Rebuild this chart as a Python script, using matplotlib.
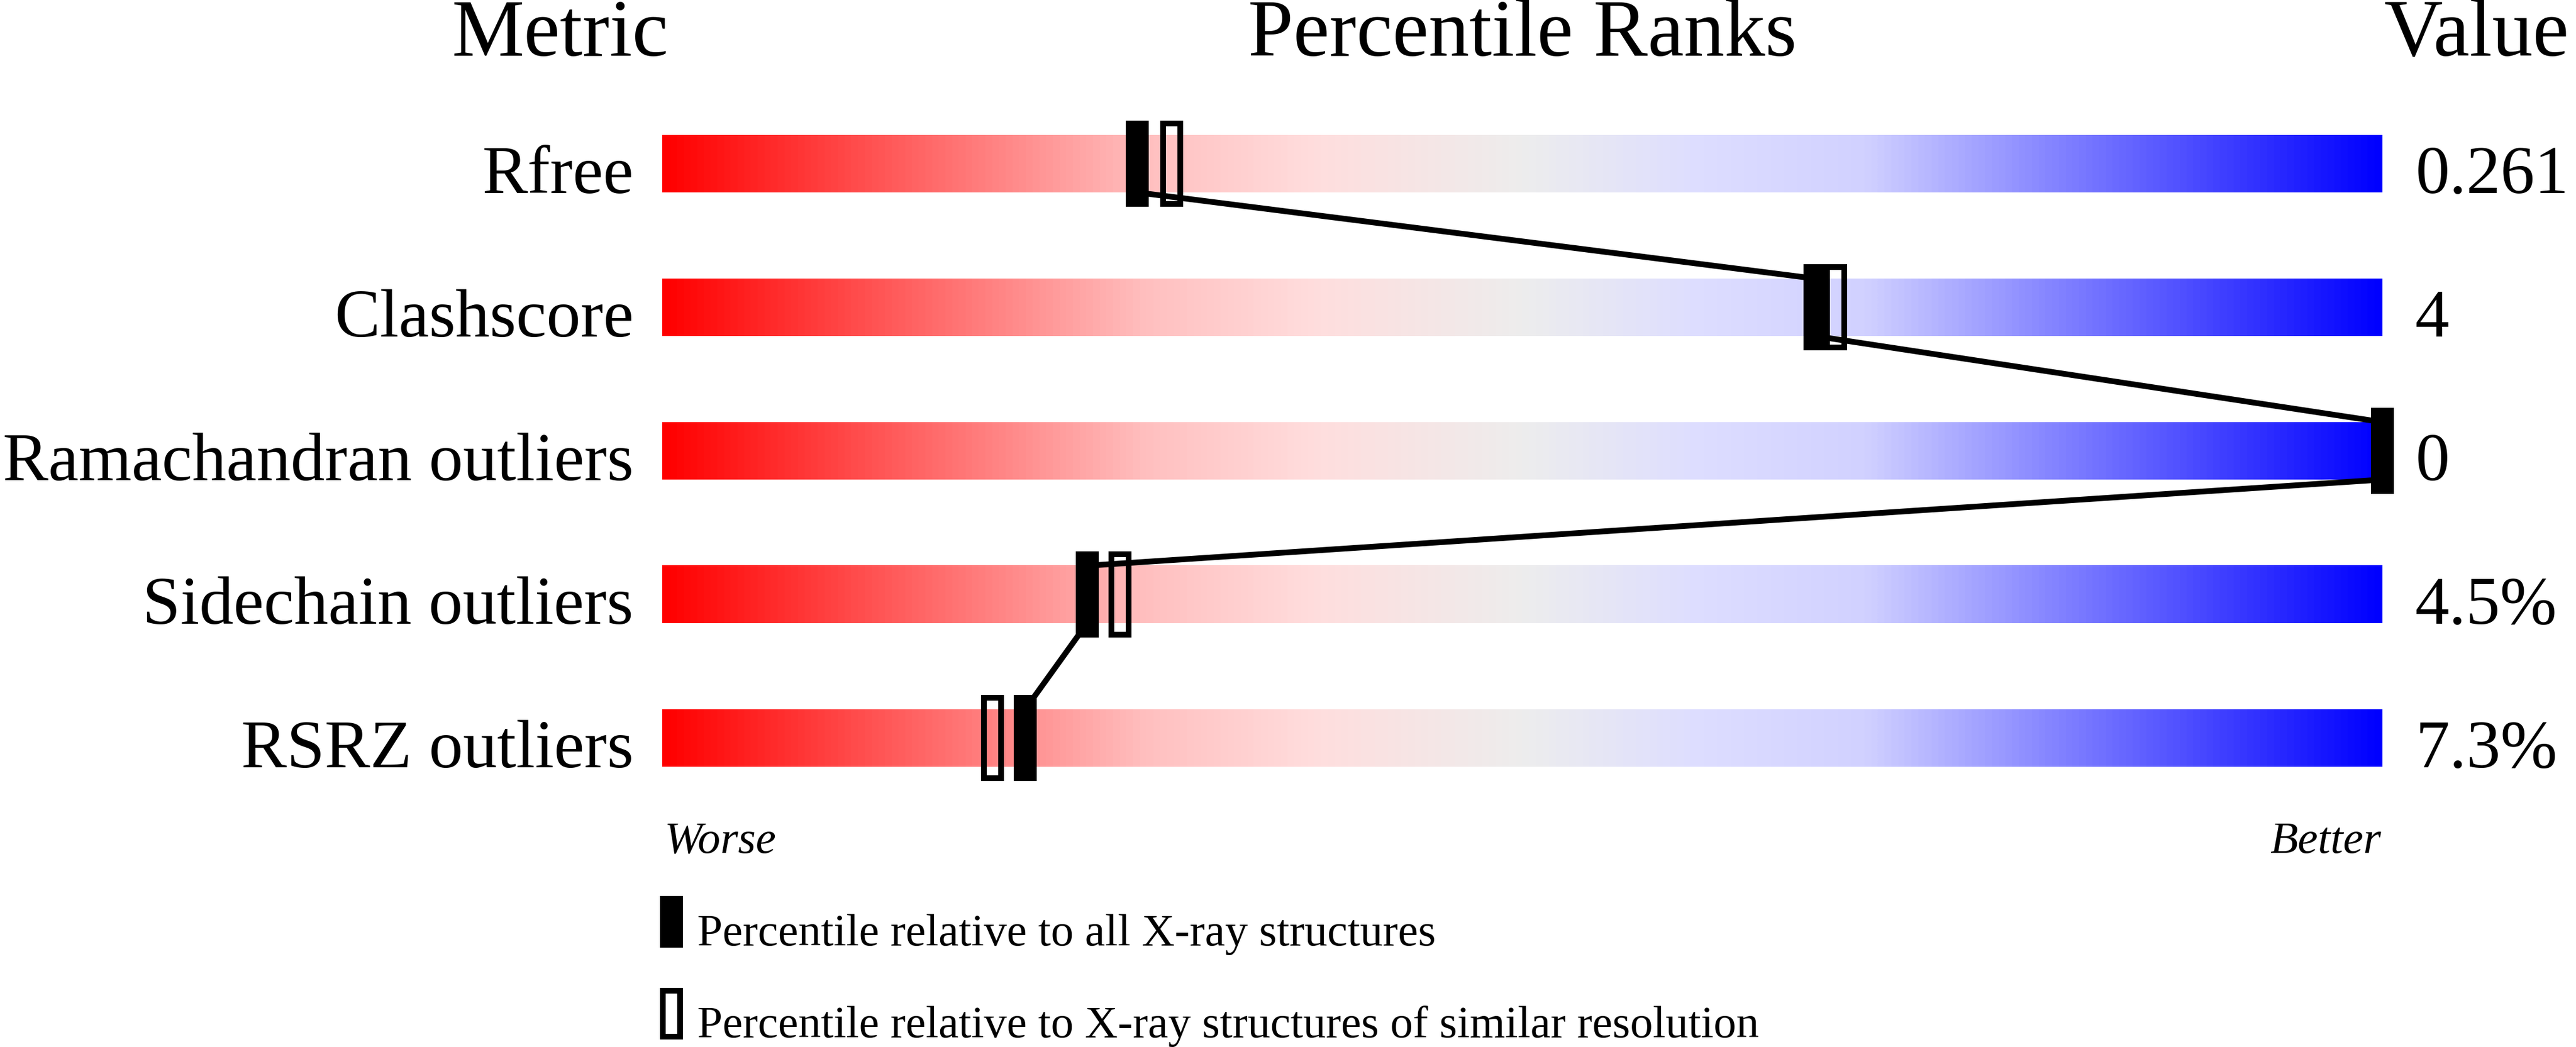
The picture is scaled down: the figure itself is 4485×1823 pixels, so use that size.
import numpy as np
import matplotlib
matplotlib.use("Agg")
import matplotlib.pyplot as plt
from matplotlib.colors import LinearSegmentedColormap
from matplotlib.patches import Rectangle

plt.rcParams['font.family'] = ['Liberation Serif', 'DejaVu Serif']

# data
metrics = ["Rfree", "Clashscore", "Ramachandran outliers", "Sidechain outliers", "RSRZ outliers"]
pct_all = [27.6, 67.0, 100.0, 24.7, 21.1]        # filled marker
pct_similar = [29.6, 68.2, 100.0, 26.6, 19.2]    # open marker
values = ["0.261", "4", "0", "4.5%", "7.3%"]

# canvas in pixels (dpi 100)
W, H = 4485, 1824
DPI = 100
bar_x0, bar_x1 = 1153, 4148
row0_px, row_step = 286, 250
px_per_pct = (bar_x1 - bar_x0) / 100.0

fig = plt.figure(figsize=(W / DPI, H / DPI), dpi=DPI)
fig.patch.set_facecolor("white")

ax = fig.add_axes([bar_x0 / W, 0, (bar_x1 - bar_x0) / W, 1])
ax.set_axis_off()

# colour ramp worse -> better
cmap = LinearSegmentedColormap.from_list("slider", [
    (0.00, (1.00, 0.00, 0.00)),
    (0.28, (1.00, 0.75, 0.75)),
    (0.38, (1.00, 0.87, 0.87)),
    (0.50, (0.93, 0.93, 0.93)),
    (0.60, (0.87, 0.87, 1.00)),
    (0.70, (0.82, 0.82, 1.00)),
    (1.00, (0.00, 0.00, 1.00)),
])
grad = np.linspace(0, 1, 600).reshape(1, -1)

bar_h = 100 / row_step
mk_h = 150 / row_step
mk_w = 40 / px_per_pct
lw_px = 10
lw_pt = lw_px * 72 / DPI

rows = np.arange(len(metrics))
for r in rows:
    ax.imshow(grad, cmap=cmap, aspect="auto", interpolation="bilinear",
              extent=(0, 100, r + bar_h / 2, r - bar_h / 2), zorder=1)

# connecting line: bar bottom of one row to bar top of the next
for r in rows[:-1]:
    ax.plot([pct_all[r], pct_all[r + 1]], [r + bar_h / 2, r + 1 - bar_h / 2],
            color="black", lw=7.2, solid_capstyle="butt", zorder=2, clip_on=False)

for r in rows:
    # open marker: outline centred on path, so shrink path by line width
    ow = (40 - lw_px) / px_per_pct
    oh = (150 - lw_px) / row_step
    ax.add_patch(Rectangle((pct_similar[r] - ow / 2, r - oh / 2), ow, oh,
                           facecolor="none", edgecolor="black", lw=lw_pt,
                           zorder=3, clip_on=False))
    ax.add_patch(Rectangle((pct_all[r] - mk_w / 2, r - mk_h / 2), mk_w, mk_h,
                           facecolor="black", edgecolor="none",
                           zorder=4, clip_on=False))

    ax.annotate(metrics[r], xy=(0, r + bar_h / 2), xytext=(-50, 0),
                textcoords="offset pixels", ha="right", va="baseline",
                fontsize=85.5, annotation_clip=False)
    ax.annotate(values[r], xy=(100, r + bar_h / 2), xytext=(57, 0),
                textcoords="offset pixels", ha="left", va="baseline",
                fontsize=85.5, annotation_clip=False)

ax.set_xlim(0, 100)
ax.set_ylim((H - row0_px) / row_step, -row0_px / row_step)

# headers
hy = 1 - 97 / H
fig.text(976 / W, hy, "Metric", ha="center", va="baseline", fontsize=102)
fig.text((bar_x0 + bar_x1) / 2 / W, hy, "Percentile Ranks", ha="center", va="baseline", fontsize=102)
fig.text(4150 / W, hy, "Value", ha="left", va="baseline", fontsize=102)

# worse / better
wy = 1 - 1485 / H
fig.text(1157 / W, wy, "Worse", ha="left", va="baseline", fontsize=57, style="italic")
fig.text(4146 / W, wy, "Better", ha="right", va="baseline", fontsize=57, style="italic")

# legend
lax = fig.add_axes([0, 0, 1, 1], facecolor="none")
lax.set_axis_off()
lax.set_xlim(0, W)
lax.set_ylim(H, 0)
lax.add_patch(Rectangle((1149, 1561), 40, 90, facecolor="black", edgecolor="none"))
lax.add_patch(Rectangle((1149 + lw_px / 2, 1721 + lw_px / 2), 40 - lw_px, 90 - lw_px,
                        facecolor="none", edgecolor="black", lw=lw_pt))
lax.text(1214, 1646, "Percentile relative to all X-ray structures",
         ha="left", va="baseline", fontsize=57)
lax.text(1214, 1806, "Percentile relative to X-ray structures of similar resolution",
         ha="left", va="baseline", fontsize=57)

fig.savefig("out.png", dpi=DPI, facecolor="white")
